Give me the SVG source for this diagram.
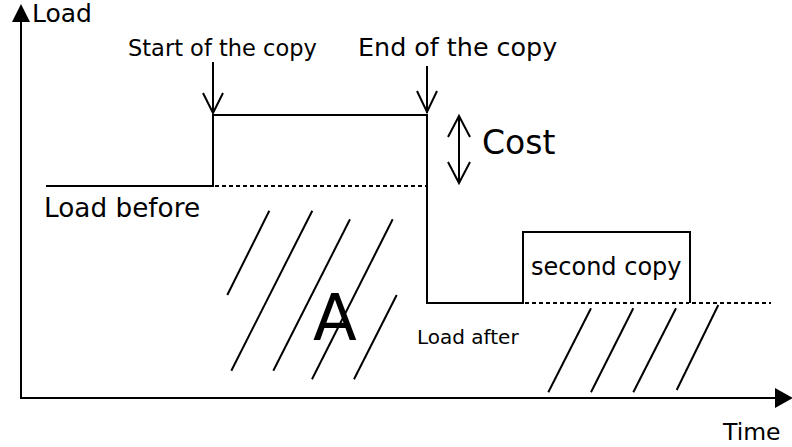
<svg xmlns="http://www.w3.org/2000/svg" width="792" height="447" viewBox="0 0 792 447">
  <style>
    text { font-family: "DejaVu Sans", "Liberation Sans", sans-serif; fill: #000; }
    .line { fill: none; stroke: #000; stroke-width: 2; }
    .dash { fill: none; stroke: #000; stroke-width: 2; stroke-dasharray: 4 3; }
    .hatch { fill: none; stroke: #000; stroke-width: 2; }
    .open { fill: none; stroke: #000; stroke-width: 2; }
  </style>

  <!-- axes -->
  <g id="axes">
    <line class="line" x1="21" y1="20" x2="21" y2="398"/>
    <polygon points="21,4 12,22 30,22" fill="#000"/>
    <line class="line" x1="20" y1="398" x2="777" y2="398"/>
    <polygon points="793,398 775,388 775,408" fill="#000"/>
    <text x="32" y="22" font-size="25">Load</text>
    <text x="723" y="440" font-size="23.5">Time</text>
  </g>

  <!-- load curve -->
  <g id="load-curve">
    <polyline class="line" points="46,186 213,186 213,115 427,115 427,303 523,303 523,232 690,232 690,303"/>
    <line class="dash" x1="215" y1="186" x2="426" y2="186"/>
    <line class="dash" x1="525" y1="303" x2="689" y2="303"/>
    <line class="dash" x1="692" y1="303" x2="771" y2="303"/>
  </g>

  <!-- markers: start / end of copy, cost -->
  <g id="connectors">
    <line class="open" x1="213" y1="62" x2="213" y2="113"/>
    <polyline class="open" points="203,93 213,113 223,93"/>
    <line class="open" x1="427" y1="66" x2="427" y2="113"/>
    <polyline class="open" points="417,91 427,112 437,91"/>
    <line class="open" x1="459" y1="116" x2="459" y2="182"/>
    <polyline class="open" points="448,137 459,116 470,137"/>
    <polyline class="open" points="448,162 459,183 470,162"/>
  </g>

  <g id="label-start"><text x="128" y="56" font-size="22.5">Start of the copy</text></g>
  <g id="label-end"><text x="358" y="56" font-size="25.4">End of the copy</text></g>
  <g id="label-cost"><text x="482" y="154" font-size="33">Cost</text></g>
  <g id="label-before"><text x="44" y="217" font-size="26.3">Load before</text></g>
  <g id="label-after"><text x="417" y="344" font-size="20">Load after</text></g>
  <g id="second-copy"><text x="531" y="275" font-size="24">second copy</text></g>

  <!-- hatched area A -->
  <g id="area-a">
    <line class="hatch" x1="269.3" y1="210.7" x2="227.3" y2="295"/>
    <line class="hatch" x1="312.3" y1="210.7" x2="231.3" y2="370.7"/>
    <line class="hatch" x1="350" y1="219.3" x2="273.3" y2="370.7"/>
    <line class="hatch" x1="392.7" y1="219.3" x2="312" y2="379.3"/>
    <line class="hatch" x1="396.7" y1="295" x2="354" y2="379.3"/>
    <text x="313" y="340" font-size="64">A</text>
  </g>

  <!-- hatched area under second copy -->
  <g id="area-b">
    <line class="hatch" x1="591" y1="308.3" x2="548.3" y2="392.3"/>
    <line class="hatch" x1="633.3" y1="308.3" x2="591" y2="392.3"/>
    <line class="hatch" x1="676" y1="308.3" x2="633.3" y2="392.3"/>
    <line class="hatch" x1="718.3" y1="305" x2="676.7" y2="390"/>
  </g>
</svg>
